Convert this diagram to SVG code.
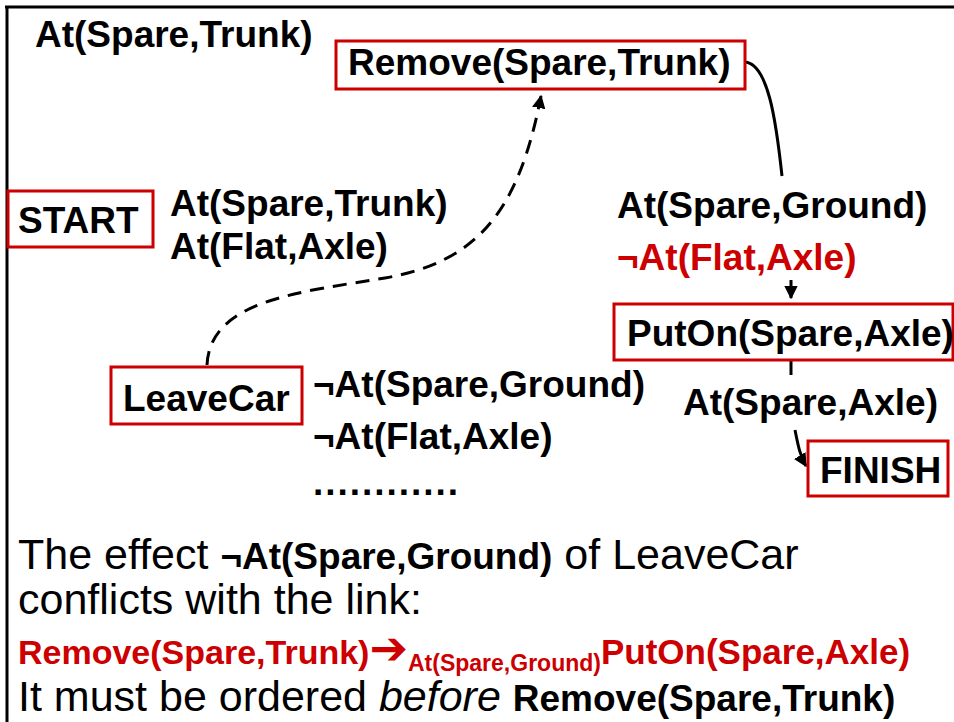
<svg xmlns="http://www.w3.org/2000/svg" width="954" height="722" viewBox="0 0 954 722">
<style>
.lbl{font-family:"Liberation Sans",Arial,sans-serif;font-weight:bold;font-size:37px;fill:#000}
.red{fill:#cc0000}
.box{fill:#fff;stroke:#cc0000;stroke-width:3}
.reg{font-family:"Liberation Sans",Arial,sans-serif;font-size:43px;fill:#000}
.b{font-weight:bold;font-size:37px}
.edge{fill:none;stroke:#000;stroke-width:3}
.dash{stroke-dasharray:14 9}
</style>
<defs>
<marker id="arr" viewBox="0 0 10 10" refX="9" refY="5" markerWidth="4.5" markerHeight="4.5" orient="auto" markerUnits="strokeWidth">
<path d="M0,0 L10,5 L0,10 z" fill="#000"/>
</marker>
</defs>
<rect width="954" height="722" fill="#fff"/>
<g id="frame">
<line x1="5" y1="7" x2="954" y2="7" stroke="#000" stroke-width="3"/>
<line x1="7" y1="6" x2="7" y2="722" stroke="#000" stroke-width="3"/>
</g>
<g id="connectors">
<path class="edge" d="M745,62 C768,64 776,120 782,176"/>
<path class="edge dash" d="M207,365 C210,300 300,292 385,278 C475,262 518,215 541,96" marker-end="url(#arr)"/>
<line class="edge" x1="791" y1="280" x2="791" y2="298" stroke-width="2" marker-end="url(#arr)"/>
<line class="edge" x1="791" y1="361" x2="791" y2="375"/>
<path class="edge" d="M795,430 C798,445 800,456 806,466" marker-end="url(#arr)"/>
</g>
<g id="start_cond"><text class="lbl" x="35" y="47">At(Spare,Trunk)</text></g>
<g id="remove">
<rect class="box" x="336" y="41" width="409" height="48"/>
<text class="lbl" x="348" y="75">Remove(Spare,Trunk)</text>
</g>
<g id="start">
<rect class="box" x="8" y="191" width="145" height="56"/>
<text class="lbl" x="18" y="233">START</text>
</g>
<g id="start_effects">
<text class="lbl" x="170" y="216">At(Spare,Trunk)</text>
<text class="lbl" x="170" y="259">At(Flat,Axle)</text>
</g>
<g id="leavecar">
<rect class="box" x="111" y="367" width="191" height="57"/>
<text class="lbl" x="123" y="411">LeaveCar</text>
</g>
<g id="leavecar_effects">
<text class="lbl" x="313" y="397">¬At(Spare,Ground)</text>
<text class="lbl" x="313" y="449">¬At(Flat,Axle)</text>
<text class="lbl" x="313" y="495" textLength="145" lengthAdjust="spacing">............</text>
</g>
<g id="remove_effects">
<text class="lbl" x="617" y="218">At(Spare,Ground)</text>
<text class="lbl red" x="617" y="270">¬At(Flat,Axle)</text>
</g>
<g id="puton">
<rect class="box" x="614" y="304" width="339" height="56"/>
<text class="lbl" x="627" y="346">PutOn(Spare,Axle)</text>
</g>
<g id="puton_effects"><text class="lbl" x="683" y="415">At(Spare,Axle)</text></g>
<g id="finish">
<rect class="box" x="808" y="441" width="140" height="55"/>
<text class="lbl" x="820" y="483">FINISH</text>
</g>
<g id="caption">
<text class="reg" x="18" y="569">The effect <tspan class="b">¬At(Spare,Ground)</tspan> of LeaveCar</text>
<text class="reg" x="18" y="614">conflicts with the link:</text>
<text class="reg" x="18" y="664" style="font-weight:bold;font-size:34px;fill:#cc0000">Remove(Spare,Trunk)<tspan style="font-family:'DejaVu Sans',sans-serif;font-size:46px">➔</tspan><tspan dy="7" style="font-size:23px">At(Spare,Ground)</tspan><tspan dy="-7" style="font-size:35px">PutOn(Spare,Axle)</tspan></text>
<text class="reg" x="18" y="711">It must be ordered <tspan font-style="italic">before</tspan> <tspan class="b">Remove(Spare,Trunk)</tspan></text>
</g>
</svg>
